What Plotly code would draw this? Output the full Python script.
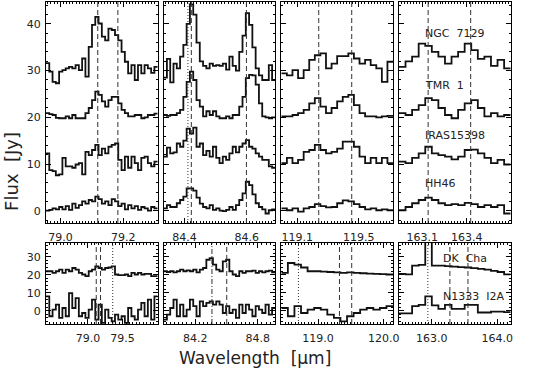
import numpy as np
import plotly.graph_objects as go

W, H = 533, 372

# ---- data: fluxes (Jy, already offset) ----
# top row, 79 micron window
ngc7129_79 = [31.6, 29.8, 27.6, 27.3, 29.8, 30.1, 30.5, 30.8, 30.5, 31.2, 30.1, 32.6, 28.7, 35.1, 39.8, 41.5, 40.1,
              37.3, 36.5, 39.0, 38.7, 37.6, 36.5, 34.0, 31.9, 29.4, 31.2, 28.0, 31.2, 29.4, 31.2, 30.5, 29.5, 30.8]
tmr1_79 = [20.9, 20.7, 20.5, 19.9, 19.8, 19.8, 20.2, 19.8, 20.5, 19.8, 19.8, 19.8, 20.9, 22.0, 23.7, 25.5, 24.8,
           23.4, 22.3, 23.7, 24.4, 24.4, 23.0, 21.6, 20.9, 20.2, 20.2, 20.5, 20.5, 19.8, 20.0, 20.5, 20.5, 20.8]
iras15398_79 = [12.3, 8.7, 8.5, 7.6, 7.8, 11.3, 9.5, 9.5, 9.2, 9.9, 10.2, 7.8, 12.6, 11.9, 13.0, 14.1, 11.9,
                13.3, 12.3, 13.7, 14.1, 14.4, 10.9, 8.7, 11.6, 9.2, 11.6, 10.2, 8.7, 11.3, 11.6, 10.2, 9.5, 10.5]
hh46_79 = [0.0, 0.2, 0.5, 0.3, 0.8, 0.3, 1.0, 0.2, 1.5, 0.6, 1.2, 2.0, 1.5, 2.3, 2.0, 3.0, 2.5,
           1.5, 2.0, 1.2, 2.5, 2.0, 1.0, 1.5, 0.3, 1.2, 0.5, 1.0, 0.2, 0.8, 0.5, 0.0, 0.8, 0.5]

# top row, 84 micron window
ngc7129_84 = [28.5, 32.5, 27.5, 31.5, 30.5, 33.0, 35.5, 40.0, 44.2, 42.0, 36.0, 32.0, 31.0, 30.5, 31.5, 31.0, 31.2,
              31.0, 31.5, 30.2, 33.0, 31.0, 30.0, 34.0, 37.5, 42.3, 39.8, 35.0, 30.5, 29.0, 28.0, 28.0, 31.2, 28.0]
tmr1_84 = [20.5, 20.3, 20.5, 20.5, 20.9, 21.6, 24.4, 27.6, 29.8, 28.0, 23.7, 22.3, 20.2, 21.3, 20.5, 21.3, 20.2,
           19.8, 19.8, 20.2, 19.8, 20.5, 20.5, 22.3, 24.4, 28.4, 29.1, 29.0, 27.0, 23.0, 20.2, 20.0, 19.8, 20.0]
iras15398_84 = [11.6, 13.5, 12.3, 12.5, 14.4, 13.7, 15.0, 17.6, 16.5, 17.8, 13.7, 14.4, 11.9, 12.8, 11.6, 13.7, 11.3,
                10.2, 11.6, 10.9, 12.3, 13.7, 12.5, 13.7, 14.4, 15.1, 13.7, 13.3, 12.3, 11.6, 10.9, 10.9, 9.5, 9.2]
hh46_84 = [0.5, 1.2, 0.8, 0.8, 1.6, 2.3, 3.0, 4.8, 4.8, 4.3, 2.8, 1.5, 0.8, 0.5, 1.2, 0.2, 0.5,
           0.0, -0.1, 0.2, 0.8, 0.2, 1.2, 2.3, 3.7, 6.2, 5.5, 3.5, 1.6, 0.8, 0.3, -0.6, 0.1, 0.3]

# top row, 119 micron window
ngc7129_119 = [29.4, 29.0, 30.1, 28.4, 30.1, 32.3, 33.3, 33.7, 30.5, 31.5, 33.1, 33.1, 33.7, 32.6, 31.5, 32.3, 31.2, 30.5, 27.6, 31.9]
tmr1_119 = [20.2, 20.2, 20.5, 20.9, 21.6, 23.0, 24.1, 22.3, 20.9, 22.0, 23.4, 24.4, 24.8, 22.6, 20.9, 20.2, 20.2, 20.0, 20.2, 20.3]
iras15398_119 = [10.2, 11.3, 10.2, 10.9, 12.6, 13.0, 14.1, 13.0, 12.3, 12.6, 13.3, 14.8, 14.8, 13.7, 11.6, 10.2, 11.3, 10.2, 11.3, 10.2]
hh46_119 = [0.5, 0.1, 0.5, -0.2, 0.5, 0.8, 1.4, 1.0, 0.7, 0.8, 1.6, 2.2, 2.0, 1.4, 0.8, 0.3, 0.5, 0.1, 0.3, 0.1]

# top row, 163 micron window
ngc7129_163 = [30.8, 32.0, 33.0, 35.8, 35.3, 34.0, 33.0, 31.5, 33.0, 34.0, 35.8, 34.4, 32.5, 33.0, 31.0, 32.3, 30.5]
tmr1_163 = [20.9, 20.5, 21.6, 22.6, 24.1, 23.7, 22.0, 20.5, 19.8, 21.6, 23.0, 23.7, 22.0, 20.2, 20.9, 20.2, 20.5]
iras15398_163 = [10.5, 10.2, 11.3, 12.3, 13.7, 12.3, 11.9, 11.6, 11.0, 11.6, 13.0, 13.1, 12.3, 11.3, 10.2, 10.9, 9.9]
hh46_163 = [0.1, 0.8, 1.6, 2.3, 2.8, 2.3, 1.6, 1.2, 1.4, 1.2, 1.7, 1.4, 0.8, 1.2, 0.8, 1.2, -0.6]

# bottom row
dkcha_79 = [21.9, 21.9, 21.0, 21.9, 22.8, 21.0, 22.8, 21.9, 23.7, 22.8, 21.0, 20.1, 19.2, 21.9, 22.8, 24.6, 23.7,
            22.8, 23.7, 24.0, 24.6, 20.1, 19.8, 19.8, 20.1, 19.2, 21.0, 20.1, 21.0, 20.1, 20.4, 20.4, 19.2, 19.2]
n1333_79 = [8.0, -3.1, 0.6, 3.4, -4.0, 1.5, -3.1, 9.8, 1.5, 7.0, -3.1, -1.3, -4.0, 0.6, 6.1, -5.0, 3.4,
            -6.8, 0.6, -4.0, -5.9, -2.2, -5.0, -3.1, -6.8, 1.5, -3.1, -5.0, 0.6, 4.3, -3.1, 6.1, -5.0, 8.0]
dkcha_84 = [21.9, 21.5, 21.9, 21.3, 21.9, 22.8, 21.9, 22.4, 21.9, 22.8, 21.3, 22.8, 23.7, 28.3, 29.2, 25.6, 22.8,
            21.9, 27.4, 28.3, 21.9, 20.1, 19.2, 21.9, 21.0, 21.9, 21.9, 22.2, 21.0, 21.9, 21.3, 21.9, 22.2, 21.3]
n1333_84 = [-5.0, -2.2, 1.5, 6.1, -3.1, 3.4, -3.1, 0.6, 6.1, 2.5, -3.1, 5.2, 2.5, 4.3, 5.2, 3.4, 5.2,
            3.4, -1.3, 2.5, -1.3, 0.6, -4.0, 3.4, -1.3, 3.4, 0.6, -3.1, 2.5, 0.6, -1.3, 3.4, -2.2, 1.5]
dkcha_119 = [21.0, 26.5, 25.6, 24.0, 21.9, 21.9, 21.7, 21.5, 21.3, 21.0, 21.3, 21.0, 20.8, 20.6, 20.4, 20.3, 20.1]
n1333_119 = [1.5, -3.1, 2.5, -1.3, 0.6, 1.5, 0.6, -2.2, -4.0, -5.9, -3.1, -1.3, 0.6, 1.5, 0.6, 1.5, 2.5]
dkcha_163 = [20.4, 20.2, 25.0, 25.4, 60.0, 25.0, 25.0, 24.8, 24.5, 24.2, 24.0, 23.6, 23.2, 22.8, 22.1, 21.5, 20.2]
n1333_163 = [-1.5, -1.5, 2.5, 3.2, 8.0, 3.0, 1.0, 3.2, 1.0, 1.0, 3.2, 3.2, -1.0, -1.0, -0.5, -0.5, -0.8]

# wavelength windows (micron) and tick labels
top_windows = [(78.954, 79.310), (84.333, 84.692), (118.997, 119.722), (162.943, 163.697)]
top_ticks = [[79.0, 79.2], [84.4, 84.6], [119.1, 119.5], [163.1, 163.4]]
bot_windows = [(78.393, 80.007), (83.896, 84.969), (118.439, 120.143), (162.499, 164.204)]
bot_ticks = [[79.0, 79.5], [84.2, 84.8], [119.0, 120.0], [163.0, 164.0]]

# line markers (wavelength, style)
top_lines = [
    [(79.119, "dash"), (79.183, "dash")],
    [(84.411, "dot"), (84.422, "dash"), (84.599, "dash")],
    [(119.240, "dash"), (119.454, "dash")],
    [(163.140, "dash"), (163.427, "dash")],
]
bot_lines = [
    [(79.119, "dash"), (79.181, "dash"), (79.357, "dot")],
    [(84.360, "dashdot"), (84.502, "dash")],
    [(118.70, "dot"), (119.326, "dash"), (119.513, "dash")],
    [(162.94, "dot"), (163.276, "dash"), (163.552, "dash")],
]

top_names = ["NGC\u00a0\u00a07129", "TMR\u00a0\u00a01", "IRAS15398", "HH46"]
bot_names = ["DK\u00a0\u00a0Cha", "N1333\u00a0\u00a0I2A"]

top_spectra = [
    [ngc7129_79, tmr1_79, iras15398_79, hh46_79],
    [ngc7129_84, tmr1_84, iras15398_84, hh46_84],
    [ngc7129_119, tmr1_119, iras15398_119, hh46_119],
    [ngc7129_163, tmr1_163, iras15398_163, hh46_163],
]
bot_spectra = [
    [dkcha_79, n1333_79],
    [dkcha_84, n1333_84],
    [dkcha_119, n1333_119],
    [dkcha_163, n1333_163],
]

# ---- layout (pixel geometry of the panels) ----
FONT = "DejaVu Sans"
TXT = "#222"
panel_x = [(46.5, 159.5), (165.5, 278.5), (284.5, 397.5), (403.5, 516.5)]
top_y, bot_y = (2, 223), (243, 324)
top_yrange, bot_yrange = [-2.63, 44.7], [-7.4, 37.6]
top_minor = [0.01, 0.01, 0.02, 0.02]
bot_minor = [0.05, 0.04, 0.05, 0.05]

fig = go.Figure()
layout = {}
shapes = []


def dash_of(style):
    return {"dash": "5px,3px", "dot": "1px,2px", "dashdot": "5px,2px,1px,2px"}[style]


def add_panel(ax, col, ypix, window, ticks, minor, yrange, ytickvals, spectra, lines):
    lo, hi = window
    sfx = "" if ax == 1 else str(ax)
    for vals in spectra:
        edges = np.linspace(lo, hi, len(vals) + 1)
        fig.add_trace(go.Scatter(
            x=edges, y=list(vals) + [vals[-1]], mode="lines", line_shape="hv",
            line=dict(color="#111", width=1.8), xaxis="x" + sfx, yaxis="y" + sfx,
            showlegend=False, hoverinfo="skip",
        ))
    for wl, style in lines:
        shapes.append(dict(type="line", xref="x" + sfx, yref="y" + sfx + " domain", x0=wl, x1=wl, y0=0, y1=1,
                           line=dict(color="#333", width=1, dash=dash_of(style))))
    x0, x1 = panel_x[col]
    common = dict(showline=True, linecolor="black", linewidth=1, mirror="ticks", ticks="inside",
                  tickcolor="black", showgrid=False, zeroline=False,
                  tickfont=dict(family=FONT, size=11, color=TXT))
    layout["xaxis" + sfx] = dict(
        common, domain=[x0 / W, x1 / W], range=[lo, hi], anchor="y" + sfx,
        tickmode="array", tickvals=ticks, ticktext=[f"{t:.1f}" for t in ticks],
        ticklen=5, ticklabelstandoff=4,
        minor=dict(ticks="inside", ticklen=2, tickcolor="black", tick0=ticks[0], dtick=minor),
    )
    layout["yaxis" + sfx] = dict(
        common, domain=[1 - ypix[1] / H, 1 - ypix[0] / H], range=yrange, anchor="x" + sfx,
        tickmode="array", tickvals=ytickvals, ticklen=5, showticklabels=(col == 0),
        ticklabelstandoff=2,
        minor=dict(ticks="inside", ticklen=2, tickcolor="black", tick0=0, dtick=2),
    )


for c in range(4):
    add_panel(c + 1, c, top_y, top_windows[c], top_ticks[c], top_minor[c], top_yrange,
              [0, 10, 20, 30, 40], top_spectra[c], top_lines[c])
    add_panel(c + 5, c, bot_y, bot_windows[c], bot_ticks[c], bot_minor[c], bot_yrange,
              [0, 10, 20, 30], bot_spectra[c], bot_lines[c])

annotations = []
for name, py in zip(top_names, [33, 85, 135, 183]):
    annotations.append(dict(x=428 / W, y=1 - py / H, xref="paper", yref="paper", text=name, showarrow=False,
                            xanchor="left", yanchor="middle", font=dict(family=FONT, size=11, color=TXT)))
for name, py in zip(bot_names, [258, 296]):
    annotations.append(dict(x=446 / W, y=1 - py / H, xref="paper", yref="paper", text=name, showarrow=False,
                            xanchor="left", yanchor="middle", font=dict(family=FONT, size=11, color=TXT)))
annotations.append(dict(x=11 / W, y=1 - 171 / H, xref="paper", yref="paper", text="Flux\u00a0\u00a0[Jy]",
                        textangle=-90, showarrow=False, xanchor="center", yanchor="middle",
                        font=dict(family=FONT, size=18, color=TXT)))
annotations.append(dict(x=258 / W, y=1 - 358 / H, xref="paper", yref="paper",
                        text="Wavelength\u00a0\u00a0[\u03bcm]", showarrow=False, xanchor="center", yanchor="middle",
                        font=dict(family=FONT, size=17, color=TXT)))

fig.update_layout(
    width=W, height=H, margin=dict(l=0, r=0, t=0, b=0),
    paper_bgcolor="white", plot_bgcolor="white",
    shapes=shapes, annotations=annotations, **layout,
)

fig.write_html("out.html", config={"displayModeBar": False},
               post_script="document.body.style.margin='0';")
